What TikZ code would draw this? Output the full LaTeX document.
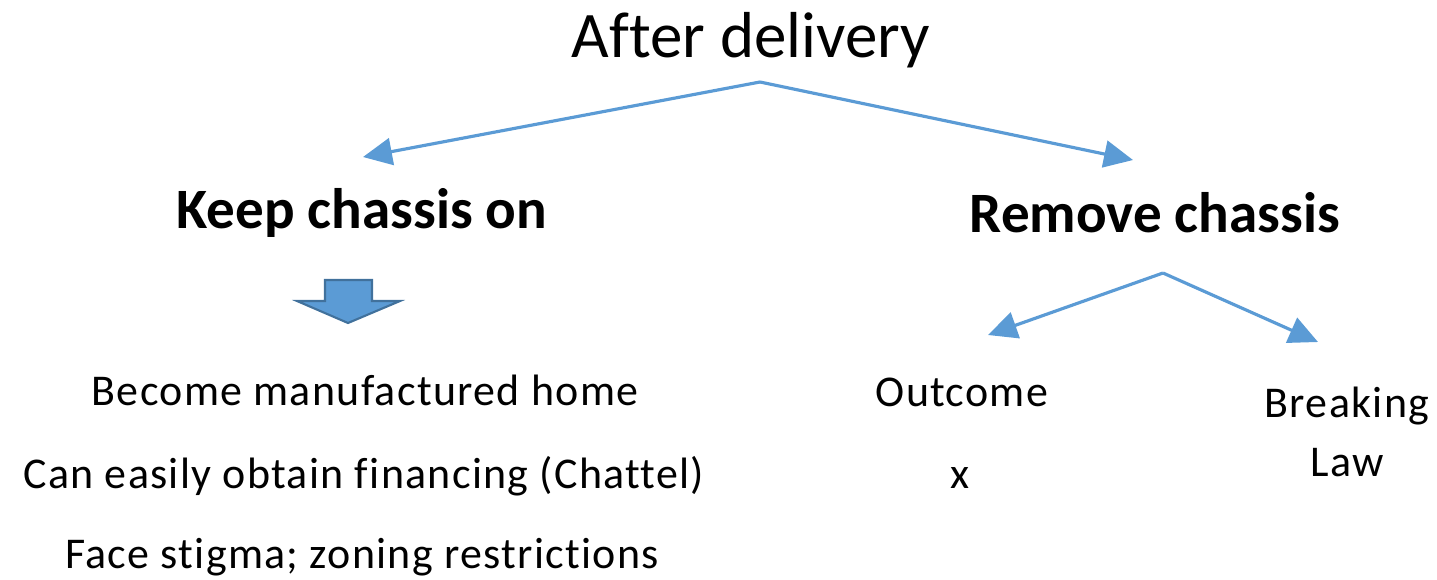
\documentclass[tikz,border=0pt]{standalone}
\usepackage{fontspec}
\setmainfont{Carlito}[Ligatures=NoCommon]
\newfontfamily\itemfont{Carlito}[Ligatures=NoCommon, LetterSpace=3]
\usepackage{tikz}
\usetikzlibrary{arrows.meta}
\definecolor{lineblue}{HTML}{5B9BD5}
\definecolor{edgeblue}{HTML}{41719C}
\tikzset{
  branch/.style={draw=lineblue, line width=1.8pt,
    -{Triangle[length=0.58cm, width=0.54cm]}},
  heading/.style={font=\fontsize{37}{44}\selectfont},
  choice/.style={font=\fontsize{32.5}{38}\selectfont\bfseries},
  item/.style={font=\itemfont\fontsize{25}{30}\selectfont},
}

\begin{document}
\begin{tikzpicture}[x=0.02cm, y=-0.02cm]
  \useasboundingbox (0,0) rectangle (1437,579);
  \node[heading] (after) at (751,40) {After delivery};
  \node[choice] (keep) at (362,213) {Keep chassis on};
  \node[choice] (remove) at (1155,213) {Remove chassis};
  \coordinate (split) at (760,82);
  \coordinate (keeptip) at (363,157);
  \coordinate (removetip) at (1133,160);
  \draw[branch](split)--(keeptip);
  \draw[branch](split)--(removetip);
  % block arrow under the left branch
  \draw[fill=lineblue, draw=edgeblue, line width=1.2pt, line join=miter]
    (325,280)--(372,280)--(372,301)--(400,301)--(348,323)--(297,301)--(325,301)--cycle;
  \node[item] (become) at (365,390) {Become manufactured home};
  \node[item] (finance) at (364,476) {Can easily obtain financing (Chattel)};
  \node[item] (stigma) at (362,557) {Face stigma; zoning restrictions};
  % right branch
  \coordinate (split2) at (1163,273);
  \coordinate (outtip) at (988,335);
  \coordinate (lawtip) at (1318,342);
  \draw[branch](split2)--(outtip);
  \draw[branch](split2)--(lawtip);
  \node[item] (outcome) at (962,392) {Outcome};
  \node[item] (x) at (960,478) {x};
  \node[item, align=center] (law) at (1347,432) {Breaking\\[4pt]Law};
\end{tikzpicture}
\end{document}
